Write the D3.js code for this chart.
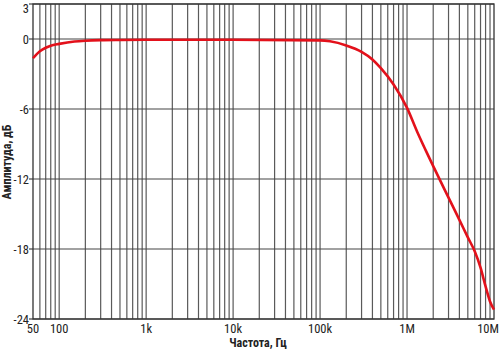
<!DOCTYPE html>
<html><head><meta charset="utf-8">
<script src="https://cdn.jsdelivr.net/npm/d3@7"></script>
<style>
body{margin:0;background:#fff;}
text{font-family:"Liberation Sans Narrow","Arial Narrow","Roboto Condensed","Liberation Sans",sans-serif;}
</style></head>
<body><svg id="c" width="500" height="349"></svg>
<script>
const freqs = [50,60,70,80,100,150,200,300,500,1000,10000,100000,130000,200000,300000,400000,500000,700000,1000000,1300000,1630000,2000000,3000000,4000000,5000000,6000000,7000000,8000000,9000000,10000000];
const gains = [-1.65,-1.05,-0.75,-0.57,-0.42,-0.22,-0.15,-0.1,-0.08,-0.07,-0.06,-0.12,-0.2,-0.55,-1.1,-1.75,-2.5,-3.9,-5.9,-7.9,-9.5,-10.9,-13.6,-15.5,-17.0,-18.2,-19.6,-21.2,-22.5,-23.2];
const xTickVals = [50,100,1000,10000,100000,1000000,10000000];
const xTickLabels = ["50","100","1k","10k","100k","1M","10M"];
const yTickVals = [3,0,-6,-12,-18,-24];
const xTitle = "Частота, Гц";
const yTitle = "Амплитуда, дБ";

const svg = d3.select("#c");
const L=33, R=494, T=4, B=319;
const x = d3.scaleLog().domain([50,1e7]).range([L,R]);
const y = d3.scaleLinear().domain([-24,3]).range([B,T]);

const vlines = [];
for (let d=10; d<=1e6; d*=10) for (let m=1;m<10;m++){ const v=d*m; if(v>50 && v<1e7) vlines.push(v); }
const g = svg.append("g");
g.selectAll("line.v").data(vlines).enter().append("line")
 .attr("x1",d=>x(d)).attr("x2",d=>x(d)).attr("y1",T).attr("y2",B)
 .attr("stroke","#5a5a5a").attr("stroke-width",1.2);
g.selectAll("line.h").data(yTickVals).enter().append("line")
 .attr("x1",L).attr("x2",R).attr("y1",d=>y(d)).attr("y2",d=>y(d))
 .attr("stroke","#444").attr("stroke-width",1.2);
g.selectAll("line.t").data(yTickVals).enter().append("line")
 .attr("x1",L-4).attr("x2",L).attr("y1",d=>y(d)).attr("y2",d=>y(d))
 .attr("stroke","#444").attr("stroke-width",1.2);
g.append("rect").attr("x",L).attr("y",T).attr("width",R-L).attr("height",B-T)
 .attr("fill","none").attr("stroke","#333").attr("stroke-width",1.3);

const line = d3.line().x((d,i)=>x(freqs[i])).y(d=>y(d)).curve(d3.curveMonotoneX);
svg.append("path").datum(gains).attr("d",line)
 .attr("fill","none").attr("stroke","#e3111b").attr("stroke-width",2.6).attr("stroke-linejoin","round");

svg.selectAll("text.yl").data(yTickVals).enter().append("text")
 .attr("x",29).attr("y",d=>Math.max(y(d)+4.5,12.5)).attr("text-anchor","end")
 .attr("font-size",12.5).attr("fill","#222").text(d=>d);
svg.selectAll("text.xl").data(xTickVals).enter().append("text")
 .attr("x",(d,i)=> i===xTickVals.length-1 ? 499 : x(d))
 .attr("y",333).attr("text-anchor",(d,i)=> i===xTickVals.length-1 ? "end":"middle")
 .attr("font-size",12.5).attr("fill","#222").text((d,i)=>xTickLabels[i]);
svg.append("text").attr("x",258).attr("y",347).attr("text-anchor","middle")
 .attr("font-size",12).attr("font-weight","bold").attr("fill","#222").text(xTitle);
svg.append("text").attr("transform","translate(11,162) rotate(-90)").attr("text-anchor","middle")
 .attr("font-size",12).attr("font-weight","bold").attr("fill","#222").text(yTitle);
</script></body></html>
